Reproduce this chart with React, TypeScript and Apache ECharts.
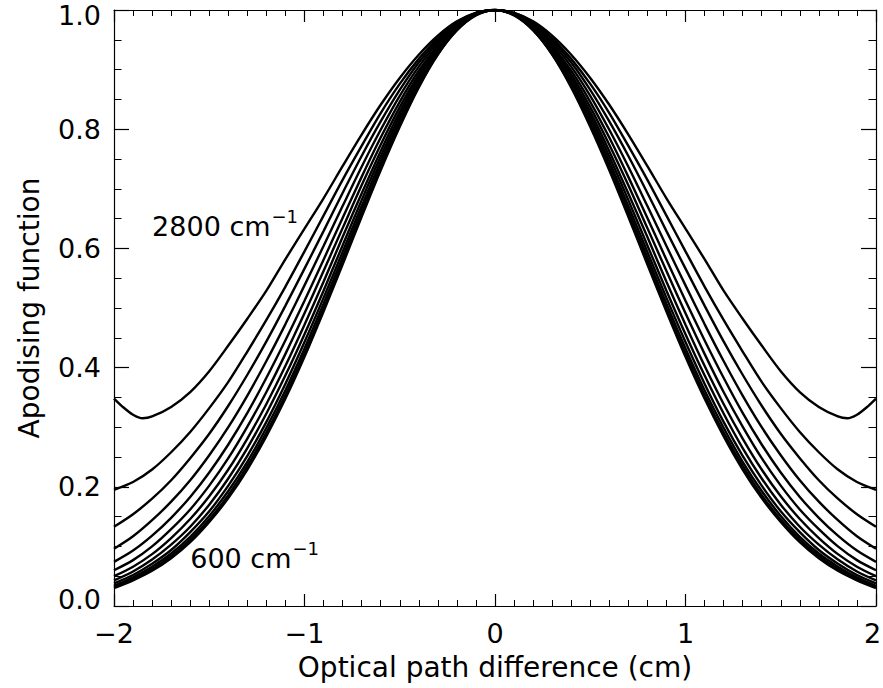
import React, { useEffect, useRef } from "react";
import * as echarts from "echarts";

// Optical path difference (cm), positive half; curves are symmetric about 0
const X_HALF = [0, 0.1, 0.2, 0.3, 0.4, 0.5, 0.6, 0.7, 0.8, 0.9, 1.0, 1.1, 1.2, 1.3, 1.4, 1.5, 1.6, 1.7, 1.8, 1.9, 2.0];
const X_HALF_2800 = [0, 0.1, 0.2, 0.3, 0.4, 0.5, 0.6, 0.7, 0.8, 0.9, 1.0, 1.1, 1.2, 1.3, 1.4, 1.5, 1.6, 1.7, 1.8, 1.85, 1.9, 1.95, 2.0];

// Apodising function values (one array per wavenumber, cm^-1)
const A2800 = [1, 0.995, 0.981, 0.957, 0.925, 0.886, 0.841, 0.791, 0.738, 0.684, 0.633, 0.582, 0.529, 0.482, 0.437, 0.394, 0.359, 0.334, 0.318, 0.315, 0.321, 0.333, 0.348];
const A2600 = [1, 0.995, 0.979, 0.953, 0.918, 0.876, 0.827, 0.772, 0.715, 0.655, 0.595, 0.536, 0.480, 0.427, 0.376, 0.332, 0.292, 0.258, 0.229, 0.208, 0.195];
const A2400 = [1, 0.994, 0.977, 0.949, 0.912, 0.866, 0.813, 0.755, 0.693, 0.629, 0.566, 0.504, 0.444, 0.388, 0.336, 0.289, 0.248, 0.211, 0.180, 0.154, 0.133];
const A2200 = [1, 0.994, 0.975, 0.945, 0.905, 0.856, 0.799, 0.737, 0.671, 0.604, 0.538, 0.473, 0.411, 0.353, 0.300, 0.253, 0.211, 0.175, 0.144, 0.117, 0.096];
const A2000 = [1, 0.993, 0.974, 0.941, 0.898, 0.846, 0.786, 0.720, 0.651, 0.581, 0.512, 0.446, 0.383, 0.324, 0.271, 0.224, 0.183, 0.148, 0.118, 0.093, 0.074];
const A1800 = [1, 0.993, 0.972, 0.938, 0.892, 0.837, 0.774, 0.706, 0.634, 0.562, 0.491, 0.423, 0.359, 0.301, 0.248, 0.202, 0.162, 0.129, 0.100, 0.077, 0.060];
const A1600 = [1, 0.993, 0.970, 0.935, 0.887, 0.829, 0.763, 0.692, 0.619, 0.544, 0.472, 0.403, 0.339, 0.281, 0.229, 0.184, 0.146, 0.114, 0.087, 0.066, 0.050];
const A1400 = [1, 0.992, 0.969, 0.932, 0.882, 0.822, 0.754, 0.681, 0.605, 0.529, 0.456, 0.387, 0.323, 0.265, 0.214, 0.170, 0.133, 0.103, 0.078, 0.058, 0.043];
const A1200 = [1, 0.992, 0.968, 0.929, 0.878, 0.816, 0.746, 0.671, 0.594, 0.517, 0.443, 0.373, 0.309, 0.252, 0.202, 0.159, 0.124, 0.094, 0.071, 0.052, 0.038];
const A1000 = [1, 0.992, 0.967, 0.927, 0.875, 0.811, 0.740, 0.663, 0.585, 0.507, 0.432, 0.362, 0.299, 0.242, 0.193, 0.151, 0.116, 0.088, 0.066, 0.048, 0.034];
const A800 = [1, 0.992, 0.966, 0.926, 0.872, 0.807, 0.735, 0.657, 0.578, 0.499, 0.424, 0.354, 0.291, 0.235, 0.186, 0.145, 0.111, 0.084, 0.062, 0.045, 0.032];
const A600 = [1, 0.991, 0.966, 0.925, 0.870, 0.804, 0.731, 0.653, 0.573, 0.494, 0.418, 0.348, 0.285, 0.229, 0.181, 0.141, 0.107, 0.080, 0.059, 0.043, 0.030];

const WAVENUMBERS = [2800, 2600, 2400, 2200, 2000, 1800, 1600, 1400, 1200, 1000, 800, 600];
const CURVES = [A2800, A2600, A2400, A2200, A2000, A1800, A1600, A1400, A1200, A1000, A800, A600];

// axis ticks
const X_TICKS = [-2, -1, 0, 1, 2];
const Y_TICKS = [0, 0.2, 0.4, 0.6, 0.8, 1.0];

// annotation texts
const LABEL_TEXTS = ["2800", "600"];

// annotation anchor positions (data coordinates), kept apart from the data
const LABEL_ANCHORS = [
  [-1.8, 0.636],
  [-1.6, 0.08],
];

const FONT = "'DejaVu Sans', sans-serif";

function mirror(xs: number[], ys: number[]): number[][] {
  const pts: number[][] = [];
  for (let i = xs.length - 1; i > 0; i--) pts.push([-xs[i], ys[i]]);
  for (let i = 0; i < xs.length; i++) pts.push([xs[i], ys[i]]);
  return pts;
}

function measure(s: string, size: number): number {
  const c = document.createElement("canvas").getContext("2d");
  if (!c) return s.length * size * 0.6;
  c.font = size + "px 'DejaVu Sans'";
  return c.measureText(s).width;
}

export default function App() {
  const ref = useRef<HTMLDivElement>(null);

  useEffect(() => {
    if (!ref.current) return;
    const chart = echarts.init(ref.current, null, { renderer: "svg" });

    const lineSeries = CURVES.map((ys, i) => ({
      type: "line",
      name: WAVENUMBERS[i] + " cm-1",
      data: mirror(i === 0 ? X_HALF_2800 : X_HALF, ys),
      symbol: "none",
      showSymbol: false,
      smooth: 0.3,
      silent: true,
      lineStyle: { color: "#000", width: 2.4 },
      z: 3,
    }));

    const axisLine = { show: true, onZero: false, lineStyle: { color: "#000", width: 1.2 } };

    const xBase = {
      type: "value",
      min: X_TICKS[0],
      max: X_TICKS[X_TICKS.length - 1],
      interval: 1,
      axisLine,
      axisTick: { show: true, inside: true, length: 12, lineStyle: { color: "#000", width: 1.2 } },
      minorTick: { show: true, splitNumber: 10, length: 6, lineStyle: { color: "#000", width: 1 } },
      splitLine: { show: false },
      minorSplitLine: { show: false },
    };
    const yBase = {
      type: "value",
      min: Y_TICKS[0],
      max: Y_TICKS[Y_TICKS.length - 1],
      interval: 0.2,
      axisLine,
      axisTick: { show: true, inside: true, length: 15, lineStyle: { color: "#000", width: 1.2 } },
      minorTick: { show: true, splitNumber: 4, length: 7.5, lineStyle: { color: "#000", width: 1 } },
      splitLine: { show: false },
      minorSplitLine: { show: false },
    };

    const tickText = { fontSize: 27, fontFamily: FONT, color: "#000" };

    chart.setOption({
      animation: false,
      backgroundColor: "#fff",
      grid: { left: 114, right: 7, top: 10, bottom: 82, containLabel: false, outerBoundsMode: "none" },
      xAxis: [
        {
          ...xBase,
          position: "bottom",
          axisLabel: {
            show: true,
            color: "#000",
            fontSize: 27,
            fontFamily: FONT,
            margin: 14,
            showMinLabel: true,
            showMaxLabel: true,
            formatter: (v: number) => {
              if (v === X_TICKS[X_TICKS.length - 1]) return "{r|" + v + "}";
              return v < 0 ? "\u2212" + Math.abs(v) : String(v);
            },
            rich: { r: { ...tickText, padding: [0, 7, 0, 0] } },
          },
          name: "Optical path difference (cm)",
          nameLocation: "middle",
          nameGap: 47,
          nameTextStyle: { color: "#000", fontSize: 28, fontFamily: FONT },
        },
        { ...xBase, position: "top", axisLabel: { show: false } },
      ],
      yAxis: [
        {
          ...yBase,
          position: "left",
          axisLabel: {
            show: true,
            color: "#000",
            fontSize: 27,
            fontFamily: FONT,
            margin: 13,
            showMinLabel: true,
            showMaxLabel: true,
            formatter: (v: number) => {
              const s = v.toFixed(1);
              if (v === Y_TICKS[Y_TICKS.length - 1]) return "{t|" + s + "}";
              if (v === Y_TICKS[0]) return "{b|" + s + "}";
              return s;
            },
            rich: {
              t: { ...tickText, padding: [10, 0, 0, 0] },
              b: { ...tickText, padding: [0, 0, 14, 0] },
            },
          },
          name: "Apodising function",
          nameLocation: "middle",
          nameGap: 71,
          nameTextStyle: { color: "#000", fontSize: 28, fontFamily: FONT },
        },
        { ...yBase, position: "right", axisLabel: { show: false } },
      ],
      series: lineSeries,
    });

    // annotation texts placed at data coordinates through the chart's own scales
    const graphics = LABEL_TEXTS.map((t, i) => {
      const p = chart.convertToPixel({ xAxisIndex: 0, yAxisIndex: 0 }, LABEL_ANCHORS[i]) as number[];
      const w = measure(t + " cm", 27);
      return {
        type: "group",
        x: p[0],
        y: p[1],
        silent: true,
        z: 10,
        children: [
          {
            type: "text",
            x: 0,
            y: 0,
            style: {
              text: t + " cm",
              fill: "#000",
              fontSize: 27,
              fontFamily: FONT,
              align: "left",
              verticalAlign: "middle",
            },
          },
          {
            type: "text",
            x: w + 1,
            y: -10,
            style: {
              text: "\u22121",
              fill: "#000",
              fontSize: 18,
              fontFamily: FONT,
              align: "left",
              verticalAlign: "middle",
            },
          },
        ],
      };
    });

    chart.setOption({ graphic: graphics });

    return () => chart.dispose();
  }, []);

  return (
    <div
      ref={ref}
      style={{ position: "absolute", left: 0, top: 0, width: 883, height: 688, background: "#fff" }}
    />
  );
}
